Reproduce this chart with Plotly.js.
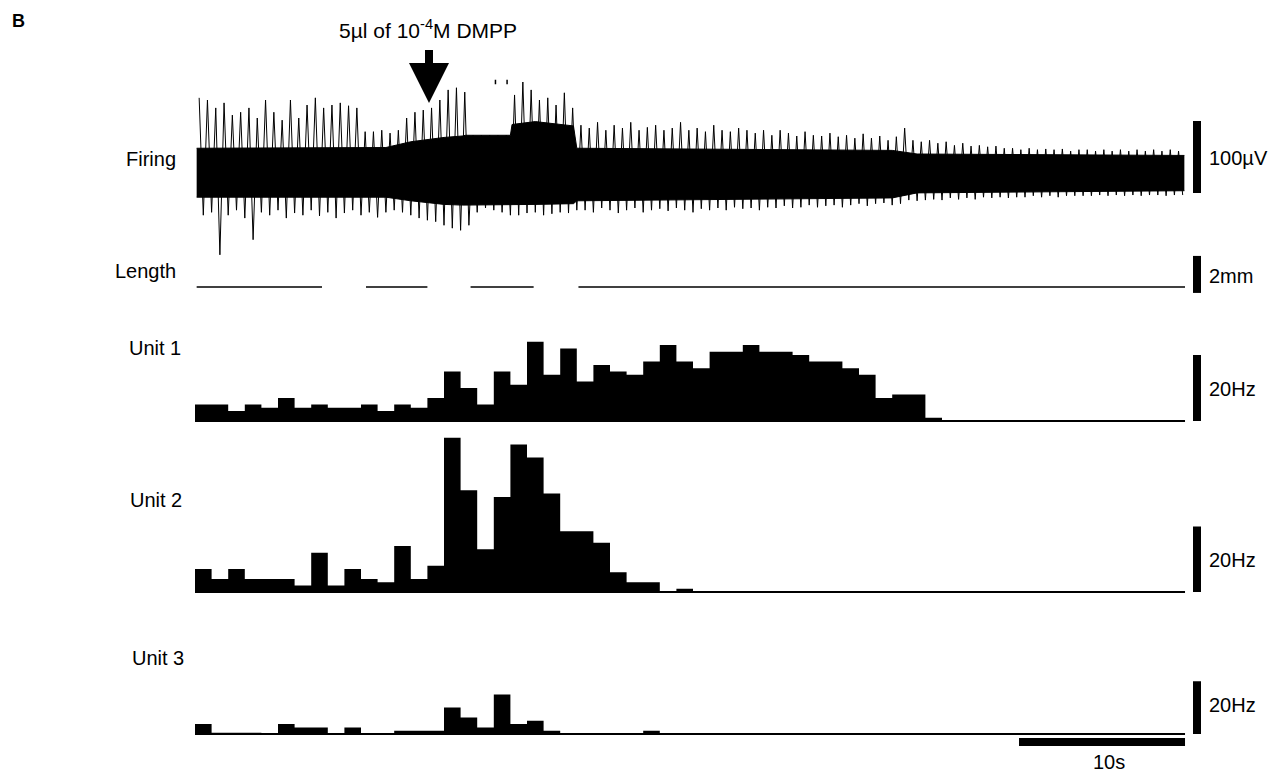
<!DOCTYPE html>
<html><head><meta charset="utf-8">
<script src="https://cdn.plot.ly/plotly-3.0.1.min.js"></script>
<style>html,body{margin:0;padding:0;background:#fff;overflow:hidden}</style>
</head><body><div id="chart" style="width:1272px;height:773px"></div>
<script>
// ---------------- DATA ----------------
const binSeconds = 1;
const recordSeconds = 59.64;
const unit1Hz = [5,5,3,5,4,7,4,5,4,4, 5,3,5,4,7,15,10,5,15,11, 24,14,22,12,17,15,14,18,23,18, 16,21,21,23,21,21,20,18,18,16, 14,7,8,8,1,0,0,0,0,0, 0,0,0,0,0,0,0,0,0,0];
const unit2Hz = [7,4,7,4,4,4,2,12,2,7, 4,3,14,4,8,47,31,13,29,45, 41,30,18.5,18.5,15,6,3,3,0,1, 0,0,0,0,0,0,0,0,0,0, 0,0,0,0,0,0,0,0,0,0, 0,0,0,0,0,0,0,0,0,0];
const unit3Hz = [3,0.4,0.4,0.4,0,3,2,2,0,2, 0,0,1,1,1,8,5,2,12,3, 4,1,0,0,0,0,0,1,0,0, 0,0,0,0,0,0,0,0,0,0, 0,0,0,0,0,0,0,0,0,0, 0,0,0,0,0,0,0,0,0,0];

// Length trace (mm, relative) with gaps
const lengthTime = [0.1, 7.65, 8.5, 10.3, 14.0, 15.0, 16.6, 20.4, 21.5, 23.1, 59.64];
const lengthMm   = [0, 0, null, 0, 0, null, 0, 0, null, 0, 0];

// Firing trace: positive / negative excursions (µV), one pair every 0.5 s
const firingPeakUV = [103,100,89,96,79,83,89,75,100,83,72,100,75,
  93,103,89,93,96,92,89,
  56,56,58,54,58,75,83,86,89,100,114,117,111,
  51,51,51,51,51,
  107,125,114,100,103,93,110,89,
  65,61,69,58,65,61,69,58,62,65,58,61,69,58,61,56,65,58,56,61,58,54,58,51,58,54,50,56,51,50,54,49,51,47,53,47,50,44,49,
  61,44,42,44,40,42,37,40,36,37,35,36,33,33,31,33,31,32,31,32,29,31,31,29,31,29,31,29,31,29,31,29,31,29];
const firingTroughUV = [-60,-56,-115,-60,-53,-64,-94,-56,-60,-53,-64,-57,-60,-53,-61,-56,-64,-57,-53,-60,-56,-63,-56,-53,
  -56,-60,-64,-67,-69,-74,-78,-81,-74,
  -56,-50,-53,-56,-60,
  -60,-57,-56,-60,-58,-56,-57,-53,
  -53,-56,-50,-53,-57,-53,-50,-56,-53,-51,-54,-50,-53,-56,-51,-53,-50,-53,-49,-51,-50,-53,-49,-50,-47,-50,-49,-46,-49,-47,-46,-49,-46,-44,-47,-44,-43,-46,-44,
  -39,-40,-39,-38,-39,-36,-38,-36,-38,-35,-36,-35,-36,-35,-35,-33,-35,-33,-35,-33,-33,-33,-33,-32,-33,-32,-33,-32,-33,-32,-32,-33,-32,-32];
// Dense (saturated) band of the trace, at its change points
const firingBandTime  = [0.1, 11.5, 13.0, 15.0, 16.1, 16.3, 19.0, 19.1, 20.5, 22.8, 23.0, 42.0, 43.5, 59.6];
const firingBandTopUV = [33,  34,   42,   48,   50,   51,   51,   66,   70,   64,   33,   30,   25,   23];
const firingBandBotUV = [-35, -35,  -40,  -45,  -46,  -46,  -46,  -46,  -45,  -44,  -40,  -36,  -29,  -26];
// Clipped spike fragments above the injection artefact
const clippedSpikeTime = [18.1, 18.8];
const clippedSpikeLoUV = [122, 122], clippedSpikeHiUV = [128, 128];

// Scale bar magnitudes
const scaleFiringUV = 100, scaleLengthMm = 2, scaleRateHz = 20, scaleTimeS = 10;

// ---------------- LAYOUT HELPERS ----------------
const W = 1272, H = 773;
const x0px = 195, pxPerSec = 16.6;
const xr = px => px / W;
const yr = py => 1 - py / H;
function yAxis(zeroPx, k, lo, hi) {
  return {domain: [1 - (zeroPx - lo * k) / H, 1 - (zeroPx - hi * k) / H], range: [lo, hi],
          visible: false, fixedrange: true, showgrid: false, zeroline: false};
}
const FONT = {family: 'Arial, "Liberation Sans", sans-serif', size: 20, color: '#000'};
const K = '#000';

const traces = [];
// Firing: dense band
traces.push({x: firingBandTime, y: firingBandBotUV, yaxis: 'y', mode: 'lines', line: {color: K, width: 1}, hoverinfo: 'skip'});
traces.push({x: firingBandTime, y: firingBandTopUV, yaxis: 'y', mode: 'lines', line: {color: K, width: 1}, fill: 'tonexty', fillcolor: K, hoverinfo: 'skip'});
// Firing: raw trace alternating between peaks and troughs
(function () {
  const zx = [], zy = [];
  const half = 0.25;
  firingPeakUV.forEach((p, j) => {
    const t = 0.5 * j + 0.25;
    zx.push(t); zy.push(p);
    zx.push(t + half); zy.push(firingTroughUV[j]);
  });
  traces.push({x: zx, y: zy, yaxis: 'y', mode: 'lines', line: {color: K, width: 1}, hoverinfo: 'skip'});
  const cx = [], cy = [];
  clippedSpikeTime.forEach((t, i) => { cx.push(t, t, null); cy.push(clippedSpikeLoUV[i], clippedSpikeHiUV[i], null); });
  traces.push({x: cx, y: cy, yaxis: 'y', mode: 'lines', line: {color: K, width: 1.5}, hoverinfo: 'skip'});
})();
// Length
traces.push({x: lengthTime, y: lengthMm, yaxis: 'y2', mode: 'lines', line: {color: K, width: 1.3}, connectgaps: false, hoverinfo: 'skip'});

// Histograms
function stepTrace(vals, ax) {
  const x = [], y = [];
  vals.forEach((v, i) => { x.push(i * binSeconds); y.push(v); });
  x.push(vals.length * binSeconds); y.push(vals[vals.length - 1]);
  return {x, y, yaxis: ax, mode: 'lines', line: {shape: 'hv', width: 0, color: K}, fill: 'tozeroy', fillcolor: K, hoverinfo: 'skip'};
}
[[unit1Hz, 'y3'], [unit2Hz, 'y4'], [unit3Hz, 'y5']].forEach(([v, ax]) => {
  traces.push(stepTrace(v, ax));
  traces.push({x: [0, recordSeconds], y: [0, 0], yaxis: ax, mode: 'lines', line: {color: K, width: 2}, hoverinfo: 'skip'});
});

// Scale bars
const barT = (1197 - x0px) / pxPerSec;
function vbar(ax, lo, mag) {
  return {x: [barT, barT], y: [lo, lo + mag], yaxis: ax, mode: 'lines', line: {color: K, width: 8}, hoverinfo: 'skip'};
}
traces.push(vbar('y', -29, scaleFiringUV));
traces.push(vbar('y2', -0.32, scaleLengthMm));
traces.push(vbar('y3', 0, scaleRateHz));
traces.push(vbar('y4', 0, scaleRateHz));
traces.push(vbar('y5', 0, scaleRateHz));
traces.push({x: [recordSeconds - scaleTimeS, recordSeconds], y: [-2.4, -2.4], yaxis: 'y5', mode: 'lines', line: {color: K, width: 8}, hoverinfo: 'skip'});

// Annotations
function label(text, xpx, ypx, xanchor, extra) {
  return Object.assign({text, x: xr(xpx), y: yr(ypx), xref: 'paper', yref: 'paper', xanchor, yanchor: 'middle', showarrow: false, font: FONT}, extra || {});
}
const annotations = [
  label('<b>B</b>', 10, 21, 'left', {font: Object.assign({}, FONT, {size: 18})}),
  label('5µl of 10<sup>-4</sup>M DMPP', 428, 29, 'center', {font: Object.assign({}, FONT, {size: 21})}),
  label('Firing', 178, 159, 'right'),
  label('Length', 178, 271, 'right'),
  label('Unit 1', 183, 348, 'right'),
  label('Unit 2', 184, 500, 'right'),
  label('Unit 3', 186, 658, 'right'),
  label('100µV', 1207, 158, 'left'),
  label('2mm', 1207, 276, 'left'),
  label('20Hz', 1207, 389, 'left'),
  label('20Hz', 1207, 560, 'left'),
  label('20Hz', 1207, 705, 'left'),
  label('10s', 1109, 762, 'center')
];

// Arrow (injection marker)
const arrowPath = [[425,50],[433,50],[433,63],[449,63],[429,103],[409,63],[425,63]]
  .map((p, i) => (i ? 'L' : 'M') + xr(p[0]) + ',' + yr(p[1])).join(' ') + ' Z';

const layout = {
  width: W, height: H, autosize: false,
  margin: {l: 0, r: 0, t: 0, b: 0, pad: 0},
  paper_bgcolor: '#fff', plot_bgcolor: 'rgba(0,0,0,0)',
  showlegend: false,
  xaxis: {domain: [x0px / W, 1], range: [0, (W - x0px) / pxPerSec], visible: false, fixedrange: true, showgrid: false, zeroline: false},
  yaxis: yAxis(172, 0.72, -135, 135),
  yaxis2: yAxis(287, 18.5, -0.6, 1.9),
  yaxis3: yAxis(421, 3.3, -1, 30),
  yaxis4: yAxis(592, 3.28, -1, 50),
  yaxis5: yAxis(734, 3.3, -4.5, 16),
  annotations,
  shapes: [{type: 'path', path: arrowPath, xref: 'paper', yref: 'paper', fillcolor: K, line: {width: 0}}]
};
Plotly.newPlot('chart', traces, layout, {staticPlot: true, displayModeBar: false});
</script></body></html>
